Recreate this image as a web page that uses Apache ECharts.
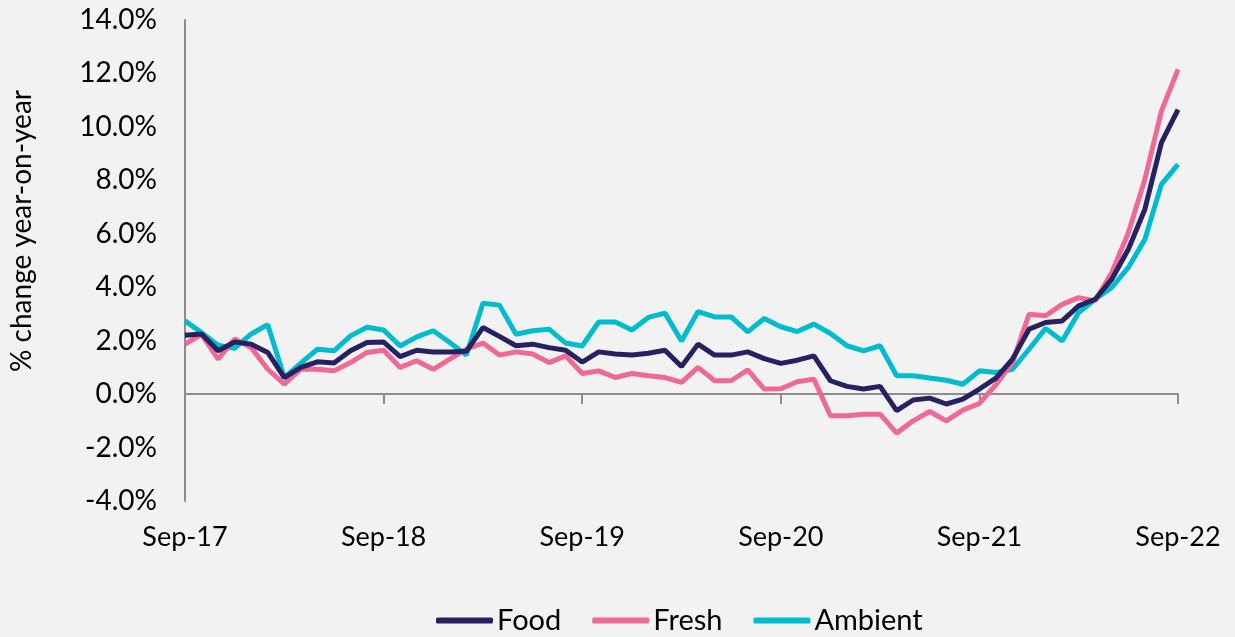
<!DOCTYPE html>
<html>
<head>
<meta charset="utf-8">
<script src="https://cdn.jsdelivr.net/npm/echarts@6/dist/echarts.min.js"></script>
<style>
html,body{margin:0;padding:0;background:#f2f2f2;}
#chart{width:1235px;height:637px;}
</style>
</head>
<body>
<div id="chart"></div>
<script>
const categories = [
 'Sep-17','Oct-17','Nov-17','Dec-17','Jan-18','Feb-18','Mar-18','Apr-18','May-18','Jun-18','Jul-18','Aug-18',
 'Sep-18','Oct-18','Nov-18','Dec-18','Jan-19','Feb-19','Mar-19','Apr-19','May-19','Jun-19','Jul-19','Aug-19',
 'Sep-19','Oct-19','Nov-19','Dec-19','Jan-20','Feb-20','Mar-20','Apr-20','May-20','Jun-20','Jul-20','Aug-20',
 'Sep-20','Oct-20','Nov-20','Dec-20','Jan-21','Feb-21','Mar-21','Apr-21','May-21','Jun-21','Jul-21','Aug-21',
 'Sep-21','Oct-21','Nov-21','Dec-21','Jan-22','Feb-22','Mar-22','Apr-22','May-22','Jun-22','Jul-22','Aug-22',
 'Sep-22'
];
const food = [
 2.2,2.25,1.62,1.95,1.87,1.56,0.62,1.0,1.21,1.16,1.62,1.93,
 1.95,1.4,1.64,1.58,1.58,1.6,2.49,2.16,1.81,1.87,1.74,1.64,
 1.2,1.58,1.5,1.46,1.53,1.64,1.03,1.87,1.46,1.46,1.58,1.33,
 1.15,1.27,1.43,0.5,0.29,0.19,0.29,-0.62,-0.22,-0.15,-0.37,-0.19,
 0.19,0.6,1.31,2.43,2.68,2.74,3.3,3.55,4.3,5.42,6.92,9.41,
 10.65
];
const fresh = [
 1.87,2.24,1.31,2.06,1.74,0.93,0.37,0.93,0.93,0.87,1.18,1.56,
 1.64,1.0,1.25,0.93,1.31,1.68,1.91,1.46,1.58,1.5,1.18,1.43,
 0.77,0.87,0.62,0.77,0.69,0.62,0.44,1.0,0.5,0.5,0.91,0.19,
 0.2,0.46,0.56,-0.81,-0.81,-0.75,-0.75,-1.46,-1.0,-0.65,-1.0,-0.6,
 -0.35,0.35,1.18,2.99,2.93,3.36,3.61,3.49,4.55,6.04,8.04,10.59,
 12.15
];
const ambient = [
 2.74,2.3,1.83,1.71,2.25,2.6,0.62,1.16,1.68,1.62,2.18,2.5,
 2.4,1.8,2.14,2.37,1.93,1.46,3.4,3.33,2.24,2.37,2.43,1.91,
 1.8,2.7,2.7,2.4,2.87,3.03,1.99,3.09,2.89,2.89,2.33,2.83,
 2.52,2.34,2.62,2.27,1.81,1.62,1.81,0.69,0.69,0.6,0.52,0.37,
 0.87,0.81,0.93,1.68,2.46,1.99,3.05,3.55,3.99,4.74,5.79,7.85,
 8.6
];
const seriesNames = ['Food','Fresh','Ambient'];
const colors = ['#262262','#f06896','#00bccf'];

const chart = echarts.init(document.getElementById('chart'), null, {renderer:'canvas'});
const FONT = 'Lato';
const axisGray = '#8c8c8c';
chart.setOption({
  backgroundColor:'#f2f2f2',
  animation:false,
  color: colors,
  textStyle:{fontFamily:FONT},
  grid:{left:185, right:57, top:20, bottom:136, containLabel:false},
  xAxis:[{
    type:'category', data:categories, boundaryGap:false,
    axisLine:{onZero:true, lineStyle:{color:axisGray, width:2}},
    axisTick:{show:true, interval:11, length:10, lineStyle:{color:axisGray, width:2}},
    axisLabel:{show:false},
    splitLine:{show:false}
  },{
    type:'category', data:categories, boundaryGap:false, position:'bottom',
    axisLine:{show:false, onZero:false},
    axisTick:{show:false},
    axisLabel:{show:true, interval:11, fontSize:27, color:'#000', fontFamily:FONT, margin:23},
    splitLine:{show:false}
  }],
  yAxis:{
    type:'value', min:-4, max:14, interval:2,
    axisLine:{show:true, onZero:false, lineStyle:{color:axisGray, width:2}},
    axisTick:{show:false},
    splitLine:{show:false},
    axisLabel:{fontSize:28, color:'#000', fontFamily:FONT, margin:28,
      formatter:function(v){return v.toFixed(1)+'%';}}
  },
  legend:{
    data:seriesNames, left:436, top:606, padding:0, icon:'roundRect',
    itemWidth:57, itemHeight:6, itemGap:31,
    textStyle:{fontSize:29, color:'#000', fontFamily:FONT, padding:[0,0,0,-1]}
  },
  graphic:[{
    type:'text', x:22, y:231, rotation:Math.PI/2,
    style:{text:'% change year-on-year', font:'28px Lato', fill:'#000', textAlign:'center', textVerticalAlign:'middle'}
  }],
  series:[
    {name:'Food', type:'line', data:food, showSymbol:false, lineStyle:{width:5, color:colors[0]}, itemStyle:{color:colors[0]}, z:3},
    {name:'Fresh', type:'line', data:fresh, showSymbol:false, lineStyle:{width:5, color:colors[1]}, itemStyle:{color:colors[1]}, z:2},
    {name:'Ambient', type:'line', data:ambient, showSymbol:false, lineStyle:{width:5, color:colors[2]}, itemStyle:{color:colors[2]}, z:1}
  ]
});
</script>
</body>
</html>
